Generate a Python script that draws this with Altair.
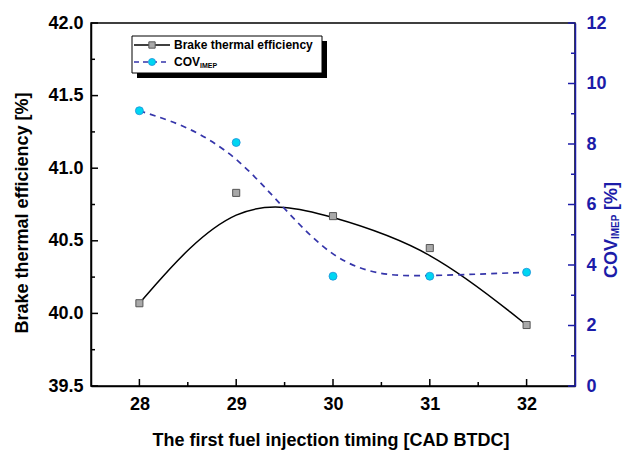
import altair as alt
import pandas as pd

# ---- data ----
timing = [28, 29, 30, 31, 32]
bte = [40.07, 40.83, 40.67, 40.45, 39.92]
cov = [9.10, 8.05, 3.63, 3.63, 3.76]

x_major = [28, 29, 30, 31, 32]
x_minor = [28.5, 29.5, 30.5, 31.5]
left_major = [39.5, 40.0, 40.5, 41.0, 41.5, 42.0]
left_minor = [39.75, 40.25, 40.75, 41.25, 41.75]
right_major = [0, 2, 4, 6, 8, 10, 12]
right_minor = [1, 3, 5, 7, 9, 11]

x_title = "The first fuel injection timing [CAD BTDC]"
left_title = "Brake thermal efficiency [%]"
right_title_main = "COV"
right_title_sub = "IMEP"
right_title_unit = "[%]"
legend_bte = "Brake thermal efficiency"
legend_cov_main = "COV"
legend_cov_sub = "IMEP"

W, H = 484, 363
FONT = "Liberation Sans"
BLUE = "#1c1ca8"
DASH_BLUE = "#3535aa"
CYAN = "#00d6f2"

df = pd.DataFrame({"t": timing, "bte": bte, "cov": cov})
one = pd.DataFrame({"a": [0]})

xs = alt.Scale(domain=[27.5, 32.5], nice=False, zero=False)
ysl = alt.Scale(domain=[39.5, 42.0], nice=False, zero=False)
ysr = alt.Scale(domain=[0, 12], nice=False, zero=False)

x_axis = alt.Axis(values=x_major, format="d", title=None, ticks=False, tickSize=0,
                  orient="bottom", labelFont=FONT, labelFontWeight="bold", labelFontSize=18,
                  labelColor="black", labelPadding=9, domainColor="black",
                  domainWidth=1.5, grid=False, labelFlush=False)
left_axis = alt.Axis(values=left_major, format=".1f", title=None, ticks=False, tickSize=0,
                     orient="left", labelFont=FONT, labelFontWeight="bold", labelFontSize=18,
                     labelColor="black", labelPadding=8, domainColor="black",
                     domainWidth=1.5, grid=False, labelFlush=False)
right_axis = alt.Axis(values=right_major, format="d", title=None, ticks=False, tickSize=0,
                      orient="right", labelFont=FONT, labelFontWeight="bold", labelFontSize=18,
                      labelColor=BLUE, labelPadding=11, domainColor=BLUE,
                      domainWidth=1.5, grid=False, labelFlush=False)

def X(field):
    return alt.X(field, scale=xs, axis=x_axis)
def YL(field):
    return alt.Y(field, scale=ysl, axis=left_axis)
def YR(field):
    return alt.Y(field, scale=ysr, axis=right_axis)

base = alt.Chart(df)

# ---- BTE group (left axis) ----
bte_line = base.mark_line(interpolate="basis", color="black", strokeWidth=1.5).encode(
    x=X("t:Q"), y=YL("bte:Q"))
bte_pts = base.mark_square(size=50, fill="#a9a9a9", stroke="#555555", strokeWidth=1, opacity=1).encode(
    x=X("t:Q"), y=YL("bte:Q"))
lt_major = alt.Chart(pd.DataFrame({"v": left_major})).mark_rule(color="black", strokeWidth=1.5).encode(
    y=YL("v:Q"), x=alt.value(0), x2=alt.value(7))
lt_minor = alt.Chart(pd.DataFrame({"v": left_minor})).mark_rule(color="black", strokeWidth=1.5).encode(
    y=YL("v:Q"), x=alt.value(0), x2=alt.value(4))
xt_major = alt.Chart(pd.DataFrame({"v": x_major})).mark_rule(color="black", strokeWidth=1.5).encode(
    x=X("v:Q"), y=alt.value(H), y2=alt.value(H - 7))
xt_minor = alt.Chart(pd.DataFrame({"v": x_minor})).mark_rule(color="black", strokeWidth=1.5).encode(
    x=X("v:Q"), y=alt.value(H), y2=alt.value(H - 4))

bte_group = alt.layer(bte_line, bte_pts, lt_major, lt_minor, xt_major, xt_minor)

# ---- COV group (right axis) ----
cov_line = base.mark_line(interpolate="basis", color=DASH_BLUE, strokeWidth=1.7,
                          strokeDash=[6, 5]).encode(x=X("t:Q"), y=YR("cov:Q"))
cov_pts = base.mark_circle(size=64, fill=CYAN, stroke="#1e90d8", strokeWidth=0.8, opacity=1).encode(
    x=X("t:Q"), y=YR("cov:Q"))
rt_major = alt.Chart(pd.DataFrame({"v": right_major})).mark_rule(color=BLUE, strokeWidth=1.5).encode(
    y=YR("v:Q"), x=alt.value(W), x2=alt.value(W - 7))
rt_minor = alt.Chart(pd.DataFrame({"v": right_minor})).mark_rule(color=BLUE, strokeWidth=1.5).encode(
    y=YR("v:Q"), x=alt.value(W), x2=alt.value(W - 4))

cov_group = alt.layer(cov_line, cov_pts, rt_major, rt_minor)

# ---- decorations: legend and titles ----
oc = alt.Chart(one)
def txt(s, x, y, size, color="black", angle=0, align="left", baseline="middle"):
    kw = dict(font=FONT, fontWeight="bold", fontSize=size, color=color,
              align=align, baseline=baseline)
    if angle:
        kw["angle"] = angle
    return oc.mark_text(**kw).encode(x=alt.value(x), y=alt.value(y), text=alt.value(s))

shadow = oc.mark_rect(color="black").encode(
    x=alt.value(46), x2=alt.value(236), y=alt.value(18), y2=alt.value(55))
box = oc.mark_rect(fill="white", stroke="black", strokeWidth=1).encode(
    x=alt.value(41), x2=alt.value(231), y=alt.value(13), y2=alt.value(50))
leg_l1 = oc.mark_rule(color="black", strokeWidth=1.5).encode(
    x=alt.value(43), x2=alt.value(79), y=alt.value(22))
leg_p1 = oc.mark_square(size=40, fill="#a9a9a9", stroke="#555555", strokeWidth=1, opacity=1).encode(
    x=alt.value(61), y=alt.value(22))
leg_l2 = oc.mark_rule(color=DASH_BLUE, strokeWidth=1.7, strokeDash=[5, 4]).encode(
    x=alt.value(43), x2=alt.value(79), y=alt.value(39))
leg_p2 = oc.mark_circle(size=50, fill=CYAN, stroke="#1e90d8", strokeWidth=0.8, opacity=1).encode(
    x=alt.value(61), y=alt.value(39))
leg_t1 = txt(legend_bte, 83, 22, 12)
leg_t2 = txt(legend_cov_main, 83, 39, 12)
leg_t3 = txt(legend_cov_sub, 109, 43, 7)

t_x = txt(x_title, 240, 418, 18, align="center")
t_left = txt(left_title, -68, 190, 18, angle=270, align="center")
t_r1 = txt(right_title_main, 521, 255, 18, color=BLUE, angle=270)
t_r2 = txt(right_title_sub, 525, 216, 10, color=BLUE, angle=270)
t_r3 = txt(right_title_unit, 521, 187, 18, color=BLUE, angle=270)

deco = alt.layer(shadow, box, leg_l1, leg_l2, leg_p1, leg_p2, leg_t1, leg_t2, leg_t3,
                 t_x, t_left, t_r1, t_r2, t_r3)

chart = alt.layer(bte_group, cov_group, deco).resolve_scale(y="independent").properties(
    width=W, height=H,
    autosize=alt.AutoSizeParams(type="none"),
    padding={"left": 83, "top": 15, "right": 47, "bottom": 65},
).configure_view(stroke="black", strokeWidth=1.5)

chart.save("out.html", embed_options={"renderer": "svg", "actions": False})
